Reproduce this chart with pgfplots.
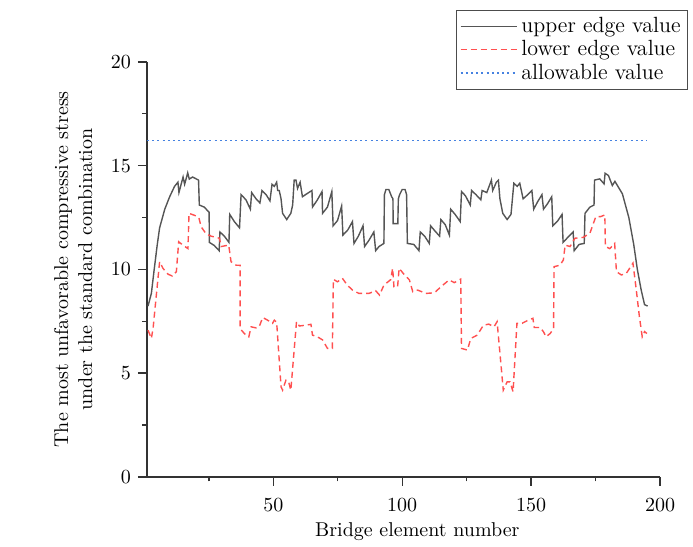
\documentclass[border=0pt]{standalone}
\usepackage{pgfplots}
\pgfplotsset{compat=1.18}

\definecolor{upperc}{RGB}{85,85,85}
\definecolor{lowerc}{RGB}{255,80,80}
\definecolor{allowc}{RGB}{70,130,225}

\begin{document}
\begin{tikzpicture}
\begin{axis}[
  width=256.5pt, height=207.5pt, scale only axis,
  xmin=1, xmax=200, ymin=0, ymax=20,
  axis lines*=left,
  axis line style={black!80, line width=0.8pt},
  xtick={50,100,150,200}, ytick={0,5,10,15,20},
  minor xtick={25,75,125,175}, minor ytick={2.5,7.5,12.5,17.5},
  tick align=outside, major tick length=4.5pt, minor tick length=2.3pt,
  tick style={black!80, line width=0.7pt},
  xticklabel style={yshift=-3pt},
  xlabel={Bridge element number},
  ylabel={The most unfavorable compressive stress\\under the standard combination},
  xlabel style={at={(axis description cs:0.527,-0.1325)}, anchor=center},
  ylabel style={at={(axis description cs:-0.144,0.5)}, anchor=center, align=center},
  legend cell align=left,
  legend style={at={(axis description cs:1.0546,1.125)}, anchor=north east,
    draw=black!70, font=\fontsize{11}{13}\selectfont, inner sep=1.5pt, row sep=-1.5pt},
  legend image code/.code={\draw[#1] (0pt,0pt) -- (28pt,0pt);},
]
% upper edge
\addplot[upperc, line width=0.7pt, no marks] coordinates {
(1.4,8.23) (2.7,8.84) (3.8,10.0) (5.0,11.2) (5.9,12.0) (7.9,12.9) (9.8,13.5) (11.7,14.0)
(13,14.2) (13.4,13.7) (15,14.45) (15.6,14.1) (16.8,14.65) (17.4,14.35) (18.7,14.45)
(21,14.3) (21.3,13.1) (23.2,13.0) (25.1,12.75) (25.2,11.3) (27.1,11.15) (29,10.9)
(29.3,11.8) (31,11.6) (32.8,11.3) (33.1,12.65)
(34.9,12.3) (36.9,12.0) (37.5,13.6) (39.4,13.35) (41.1,12.9) (41.6,13.7) (43.3,13.4)
(44.8,13.2) (45.6,13.8) (47.2,13.6) (48.7,13.3) (49.5,14.1) (50.4,14.0) (51.3,14.2)
(51.7,13.8) (52.3,13.8) (53,13.4) (53.6,12.7) (55.2,12.4) (56.8,12.7) (57.5,13.1)
(58.1,14.3) (58.8,14.3) (59.4,13.9) (60.4,14.2) (61.3,13.5)
(63.1,13.65) (65,13.8) (65.2,13.0) (67.1,13.35) (68.9,13.75) (69.1,12.7) (71,13.0)
(72.7,13.75) (73.2,12.1) (74.9,12.35) (76.5,13.05) (77,11.65) (78.9,11.9) (80.7,12.3)
(81.3,11.25) (83,11.6) (84.8,12.1) (85.4,11.1) (87.1,11.4) (89,11.8) (89.7,10.9)
(91,11.1) (92.9,11.25)
(93.1,13.6) (93.7,13.85) (94.8,13.85) (95.9,13.5) (96.4,13.4) (96.5,12.2) (98.3,12.2)
(98.5,13.4) (99.0,13.6) (100,13.85) (101.1,13.85) (101.7,13.6) (102,11.25)
(104.5,11.2) (106.5,10.9) (107,11.8) (108.7,11.6) (110.5,11.25) (111,12.1) (112.7,11.85)
(114.5,11.6) (115,12.4) (116.7,12.15) (118.3,11.65) (118.8,12.9) (120.5,12.65)
(122.5,12.3) (123,13.75) (124.5,13.55) (126.4,13.1) (126.9,13.8) (128.6,13.6)
(130.5,13.35) (131,13.8) (132.8,13.7) (134.6,14.3) (135.1,13.8) (136,14.05) (136.5,14.2)
(137.3,14.3) (137.9,13.4) (139,12.7) (140.7,12.4) (142.2,12.65) (143.3,14.15)
(144.6,14.0) (145.6,14.15) (146.9,13.4) (148.7,13.6) (150.3,13.8) (151,12.9)
(152.5,13.25) (154.2,13.6) (154.8,12.9) (156.3,13.15) (158,13.5) (158.4,12.1)
(160.4,12.35) (162,12.65) (162.4,11.3) (164.3,11.55) (166.3,11.8) (166.7,10.9)
(168.6,11.2) (170.6,11.25) (170.9,12.7) (172.8,13.0) (174.4,13.1) (174.6,14.3)
(176.6,14.36) (178.3,14.12) (178.7,14.63) (180,14.52) (181.5,14.04) (182.5,14.24)
(185.4,13.64) (187.9,12.5) (189.8,11.2) (191.2,10.0) (192.7,9.0) (194,8.3) (195.2,8.23)
};
\addlegendentry{upper edge value}
% lower edge
\addplot[lowerc, line width=0.7pt, dash pattern=on 3pt off 2pt, no marks] coordinates {
(1.4,7.07) (2.7,6.67) (3.4,7.2) (5.9,10.37) (7.2,10.05) (9.1,9.77) (10.8,9.68)
(12.4,9.89) (13.3,11.33) (14.9,11.17) (16.9,11.0) (17.3,12.7) (19.5,12.6) (21.1,12.5)
(22,12.05) (24,11.7) (25.9,11.6) (29.1,11.5) (29.8,11.1) (32.7,11.17) (33.6,10.37)
(35.6,10.2) (37.1,10.2) (37.1,7.15) (38.8,6.9) (40.5,6.75) (41.4,7.23) (43.3,7.18)
(44.5,7.23) (45.9,7.68) (47.8,7.55) (49.7,7.4) (50.4,7.55) (51.3,7.45) (53,4.34)
(53.6,4.18) (54.9,4.66) (55.9,4.6) (56.8,4.18) (59,7.48) (60.1,7.27) (62.6,7.31)
(64.6,7.35) (65.2,6.83) (67.1,6.75) (69.1,6.6) (71,6.19) (72.9,6.19) (73.3,9.52)
(74.9,9.4) (76.8,9.57) (78.7,9.24) (80.7,9.0) (83.2,8.84) (87.1,8.84) (89.7,8.97)
(91.2,8.76) (92.9,9.24) (95.5,9.5) (96.3,10.05) (96.8,9.15) (98.2,9.15) (98.8,10.05)
(100.9,9.73) (102.8,9.49) (104.1,8.92) (106,9.0) (109.2,8.84) (112.5,8.87) (115,9.16)
(118.2,9.49) (120.2,9.36) (122.7,9.53) (123,6.19) (125.3,6.11) (126.6,6.67) (129.1,6.83)
(131.5,7.31) (133.6,7.36) (135.6,7.23) (136.8,7.48) (139.2,4.18) (140.7,4.58)
(141.8,4.58) (143,4.1) (144.5,7.4) (146.5,7.4) (149,7.56) (150.7,7.64) (151.2,7.2)
(153.5,7.2) (154.8,6.99) (155.8,6.75) (157.4,6.91) (158.7,7.15) (158.9,10.13)
(161.2,10.2) (162.5,10.45) (163.2,11.17) (165.1,11.1) (167,11.5) (170.2,11.54)
(172.8,11.74) (175.1,12.54) (176.9,12.54) (178.6,12.62) (178.8,11.1) (180.5,11.0)
(182.4,11.25) (183.1,9.89) (185,9.73) (186.9,9.8) (189.5,10.3) (190.8,9.0) (192,7.72)
(193.1,6.75) (194,7.0) (194.9,6.91)
};
\addlegendentry{lower edge value}
% allowable value
\addplot[allowc, line width=0.8pt, dash pattern=on 1pt off 1.6pt, no marks] coordinates {
(1,16.2) (195,16.2)
};
\addlegendentry{allowable value}
\coordinate (bbsw) at (axis description cs:-0.2865,-0.1687);
\coordinate (bbne) at (axis description cs:1.0643,1.149);
\end{axis}
\pgfresetboundingbox
\path[use as bounding box] (bbsw) rectangle (bbne);
\end{tikzpicture}
\end{document}
